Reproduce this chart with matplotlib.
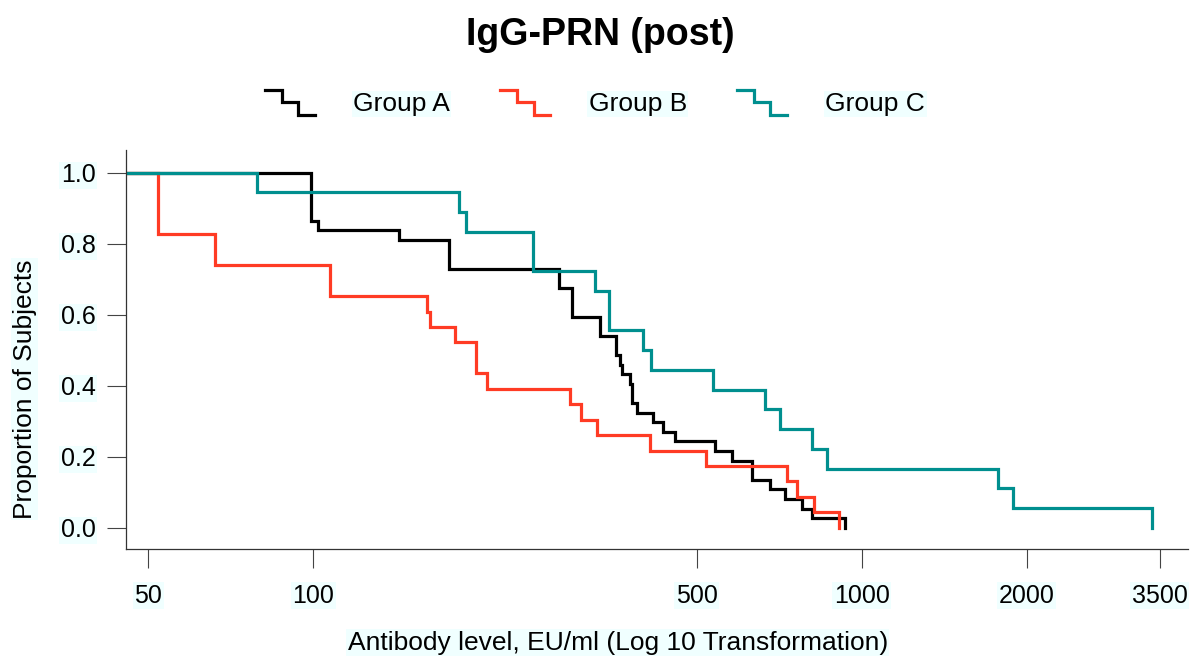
import numpy as np
import matplotlib
matplotlib.use('Agg')
import matplotlib.pyplot as plt
from matplotlib.legend_handler import HandlerBase
from matplotlib.lines import Line2D
from matplotlib.ticker import NullLocator

plt.rcParams['font.family'] = ['Liberation Sans', 'DejaVu Sans']

# antibody levels (EU/ml) per subject
group_a = [99, 99, 99, 99, 99, 102, 143, 177, 177, 177, 280, 280, 296, 296, 296,
           333, 333, 356, 356, 362, 365, 378, 381, 381, 389, 416, 435, 457, 540,
           579, 630, 630, 680, 724, 779, 811, 932]
group_b = [52, 52, 52, 52, 66, 66, 107, 107, 161, 163, 181, 198, 198, 207, 294,
           308, 329, 411, 521, 730, 761, 819, 910]
group_c = [79, 184, 190, 251, 251, 326, 346, 346, 400, 412, 535, 666, 710, 811,
           863, 1776, 1891, 3382]

groups = ['Group A', 'Group B', 'Group C']
colors = ['black', '#FF3B24', '#008F8F']
xticks = [50, 100, 500, 1000, 2000, 3500]
yticks = [0.0, 0.2, 0.4, 0.6, 0.8, 1.0]
bg = '#F0FFFF'

x_lo, x_hi = 45.5, 3940


def step_curve(vals, x0):
    vals = np.sort(np.asarray(vals, dtype=float))
    n = len(vals)
    u = np.unique(vals)
    prop = [(vals > v).sum() / n for v in u]
    return np.r_[x0, u], np.r_[1.0, prop]


class StepHandler(HandlerBase):
    # little staircase icon for the legend
    def create_artists(self, legend, orig_handle, xdescent, ydescent,
                       width, height, fontsize, trans):
        xs = np.array([0, 1/3, 1/3, 2/3, 2/3, 1]) * width - xdescent
        ys = (np.array([1, 1, 0.5, 0.5, 0, 0]) * 1.35 - 0.2) * height - ydescent
        ln = Line2D(xs, ys, color=orig_handle.get_color(),
                    lw=orig_handle.get_linewidth(), solid_joinstyle='miter')
        ln.set_transform(trans)
        return [ln]


fig = plt.figure(figsize=(12, 6.59), dpi=100)
ax = fig.add_axes([126/1200, 1 - 549/659, (1188 - 126)/1200, (549 - 150)/659])

lines = []
for vals, col in zip([group_a, group_b, group_c], colors):
    xs, ys = step_curve(vals, x_lo)
    ln, = ax.step(xs, ys, where='post', color=col, lw=2.3, solid_joinstyle='miter')
    lines.append(ln)

ax.set_xscale('log')
ax.set_xlim(x_lo, x_hi)
ax.set_ylim(-0.060, 1.064)
ax.set_xticks(xticks)
ax.set_xticklabels([str(t) for t in xticks])
ax.xaxis.set_minor_locator(NullLocator())
ax.set_yticks(yticks)
ax.set_yticklabels(['%.1f' % t for t in yticks])

for s in ['top', 'right']:
    ax.spines[s].set_visible(False)
for s in ['left', 'bottom']:
    ax.spines[s].set_color('#333333')
    ax.spines[s].set_linewidth(0.9)

ax.tick_params(axis='both', length=14, width=0.8, color='#444444', labelsize=18)
ax.tick_params(axis='x', pad=11)
ax.tick_params(axis='y', pad=8)
for lbl in ax.get_xticklabels() + ax.get_yticklabels():
    lbl.set_bbox(dict(facecolor=bg, edgecolor='none', pad=1))

ax.set_xlabel('Antibody level, EU/ml (Log 10 Transformation)', fontsize=19,
              bbox=dict(facecolor=bg, edgecolor='none', pad=1))
ax.set_ylabel('Proportion of Subjects', fontsize=19,
              bbox=dict(facecolor=bg, edgecolor='none', pad=1))
ax.xaxis.set_label_coords(0.463, -0.205)
ax.yaxis.set_label_coords(-0.084, 0.401)

fig.text(0.5, 1 - 35/659, 'IgG-PRN (post)', ha='center', va='center',
         fontsize=27, fontweight='bold')

leg = fig.legend(lines, groups, loc='center', bbox_to_anchor=(595/1200, 1 - 104/659),
                 ncol=3, frameon=False, fontsize=19,
                 handler_map={Line2D: StepHandler()},
                 handlelength=1.9, handletextpad=1.45, columnspacing=1.9)
for t in leg.get_texts():
    t.set_bbox(dict(facecolor=bg, edgecolor='none', pad=1))

fig.savefig('out.png', dpi=100)
